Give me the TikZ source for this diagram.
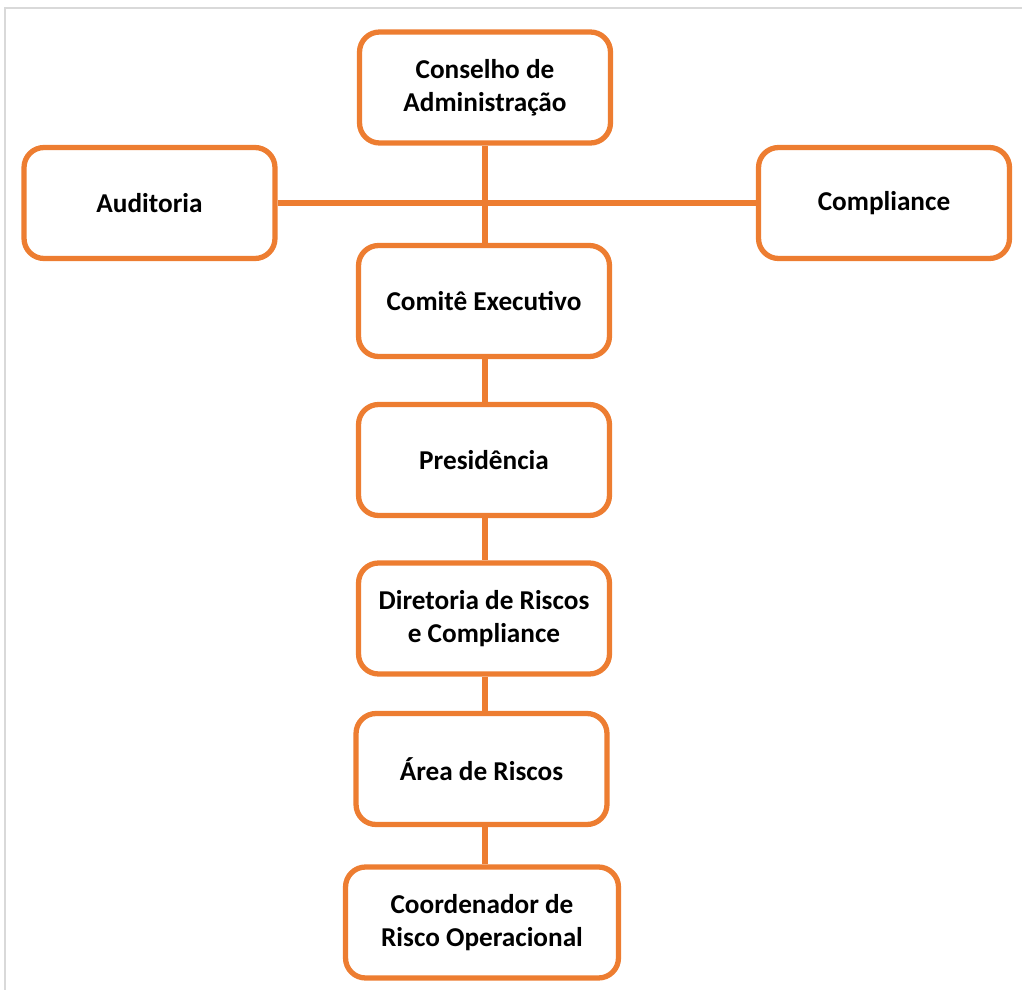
\documentclass[tikz,border=0pt]{standalone}
\usepackage{fontspec}
\setmainfont{Carlito}
\usetikzlibrary{positioning}
\definecolor{orgorange}{HTML}{ED7D31}
\definecolor{framegray}{HTML}{D9D9D9}

\begin{document}
\begin{tikzpicture}[x=0.02cm, y=-0.02cm,
    orgbox/.style={draw=orgorange, line width=3pt, rounded corners=0.4cm,
        fill=white, align=center, minimum width=5.02cm, minimum height=2.22cm,
        font=\fontsize{15.5}{18.7}\selectfont\bfseries},
    orgline/.style={draw=orgorange, line width=3pt}]
    \useasboundingbox (0,0) rectangle (1022,990);
    % moldura
    \draw[framegray, line width=1.2pt] (5,990) -- (5,8) -- (1022,8);

    % caixas
    \node[orgbox] (conselho) at (485,87.5) {Conselho de\\Administração};
    \node[orgbox] (auditoria) at (149.5,203) {Auditoria};
    \node[orgbox] (compliance) at (884,203) {Compliance};
    \node[orgbox] (comite) at (484,301) {Comitê Executivo};
    \node[orgbox] (presid) at (484,460) {Presidência};
    \node[orgbox] (diretoria) at (484,618.5) {Diretoria de Riscos\\e Compliance};
    \node[orgbox] (area) at (481.5,769) {Área de Riscos};
    \node[orgbox, minimum width=5.46cm] (coord) at (482,922.5) {Coordenador de\\Risco Operacional};

    % ligações
    \draw[orgline] (auditoria.east) -- (compliance.west);
    \draw[orgline] (conselho.south) -- (conselho.south |- comite.north);
    \draw[orgline] (conselho.south |- comite.south) -- (conselho.south |- presid.north);
    \draw[orgline] (conselho.south |- presid.south) -- (conselho.south |- diretoria.north);
    \draw[orgline] (conselho.south |- diretoria.south) -- (conselho.south |- area.north);
    \draw[orgline] (conselho.south |- area.south) -- (conselho.south |- coord.north);
\end{tikzpicture}
\end{document}
